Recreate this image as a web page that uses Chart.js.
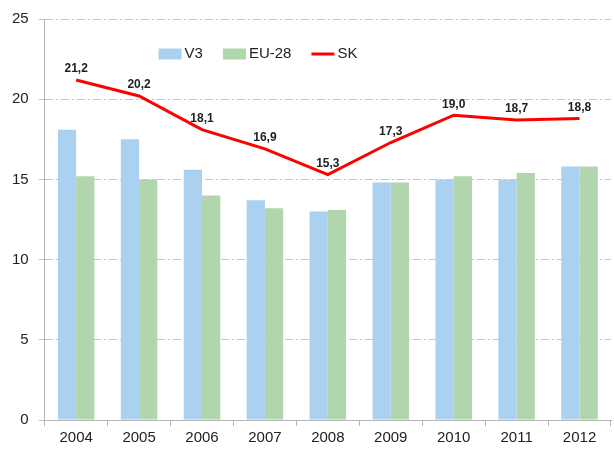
<!DOCTYPE html>
<html>
<head>
<meta charset="utf-8">
<script src="https://cdn.jsdelivr.net/npm/chart.js@4/dist/chart.umd.min.js"></script>
<style>
  html, body { margin: 0; padding: 0; background: #fff; }
  #wrap { width: 614px; height: 450px; }
</style>
</head>
<body>
<div id="wrap"><canvas id="chart" width="614" height="450"></canvas></div>
<script>
var years = ['2004', '2005', '2006', '2007', '2008', '2009', '2010', '2011', '2012'];
var v3 = [18.1, 17.5, 15.6, 13.7, 13.0, 14.8, 15.0, 15.0, 15.8];
var eu28 = [15.2, 15.0, 14.0, 13.2, 13.1, 14.8, 15.2, 15.4, 15.8];
var sk = [21.2, 20.2, 18.1, 16.9, 15.3, 17.3, 19.0, 18.7, 18.8];

var FONT = "'Liberation Sans Narrow', 'Arial Narrow', 'Liberation Sans', Arial, sans-serif";

// values above the SK line, with decimal comma
var skLabels = {
    id: 'skLabels',
    afterDatasetsDraw: function (chart) {
        var meta = chart.getDatasetMeta(2);
        var ctx = chart.ctx;
        ctx.save();
        ctx.font = 'bold 12px ' + FONT;
        ctx.fillStyle = '#222';
        ctx.textAlign = 'center';
        ctx.textBaseline = 'bottom';
        meta.data.forEach(function (pt, i) {
            ctx.fillText(sk[i].toFixed(1).replace('.', ','), pt.x, pt.y - 5);
        });
        ctx.restore();
    }
};

// legend inside the plot, a bit left of centre like the original
var innerLegend = {
    id: 'innerLegend',
    afterDraw: function (chart) {
        var ctx = chart.ctx;
        var area = chart.chartArea;
        var sets = chart.data.datasets;
        var boxW = 23, boxH = 11, gap = 3, spacing = 20;
        ctx.save();
        ctx.font = '15px ' + FONT;
        var widths = sets.map(function (ds) { return boxW + gap + ctx.measureText(ds.label).width; });
        var total = widths.reduce(function (a, b) { return a + b; }, 0) + spacing * (sets.length - 1);
        var x = 258 - total / 2;
        var cy = area.top + 35;
        sets.forEach(function (ds, i) {
            if (ds.type === 'line') {
                ctx.strokeStyle = ds.borderColor;
                ctx.lineWidth = ds.borderWidth;
                ctx.beginPath();
                ctx.moveTo(x, cy);
                ctx.lineTo(x + boxW, cy);
                ctx.stroke();
            } else {
                ctx.fillStyle = ds.backgroundColor;
                ctx.fillRect(x, cy - boxH / 2, boxW, boxH);
            }
            ctx.fillStyle = '#222';
            ctx.textAlign = 'left';
            ctx.textBaseline = 'middle';
            ctx.fillText(ds.label, x + boxW + gap, cy);
            x += widths[i] + spacing;
        });
        ctx.restore();
    }
};

var ctx = document.getElementById('chart').getContext('2d');
new Chart(ctx, {
    type: 'bar',
    data: {
        labels: years,
        datasets: [{
            label: 'V3',
            data: v3,
            backgroundColor: '#abd1f0',
            borderWidth: 0,
            order: 2
        }, {
            label: 'EU-28',
            data: eu28,
            backgroundColor: '#b1d6ad',
            borderWidth: 0,
            order: 2
        }, {
            type: 'line',
            label: 'SK',
            data: sk,
            borderColor: '#ff0000',
            backgroundColor: '#ff0000',
            borderWidth: 3,
            pointRadius: 0,
            tension: 0,
            order: 1
        }]
    },
    options: {
        responsive: false,
        animation: false,
        layout: { padding: { top: 6, right: 3, left: 2, bottom: 0 } },
        datasets: {
            bar: { categoryPercentage: 0.58, barPercentage: 1.0 }
        },
        plugins: {
            legend: { display: false },
            tooltip: { enabled: false }
        },
        scales: {
            x: {
                offset: true,
                grid: {
                    offset: true,
                    drawOnChartArea: false,
                    color: '#b5b5b5',
                    tickLength: 6
                },
                border: { color: '#b5b5b5', width: 1 },
                ticks: {
                    color: '#222',
                    font: { family: FONT, size: 15 },
                    padding: 3
                }
            },
            y: {
                min: 0,
                max: 25,
                grid: {
                    color: '#c4c4c4',
                    tickLength: 6
                },
                border: { color: '#b5b5b5', width: 1, dash: [8, 3, 2, 3] },
                ticks: {
                    stepSize: 5,
                    color: '#222',
                    font: { family: FONT, size: 15 },
                    padding: 10
                }
            }
        }
    },
    plugins: [skLabels, innerLegend]
});
</script>
</body>
</html>
